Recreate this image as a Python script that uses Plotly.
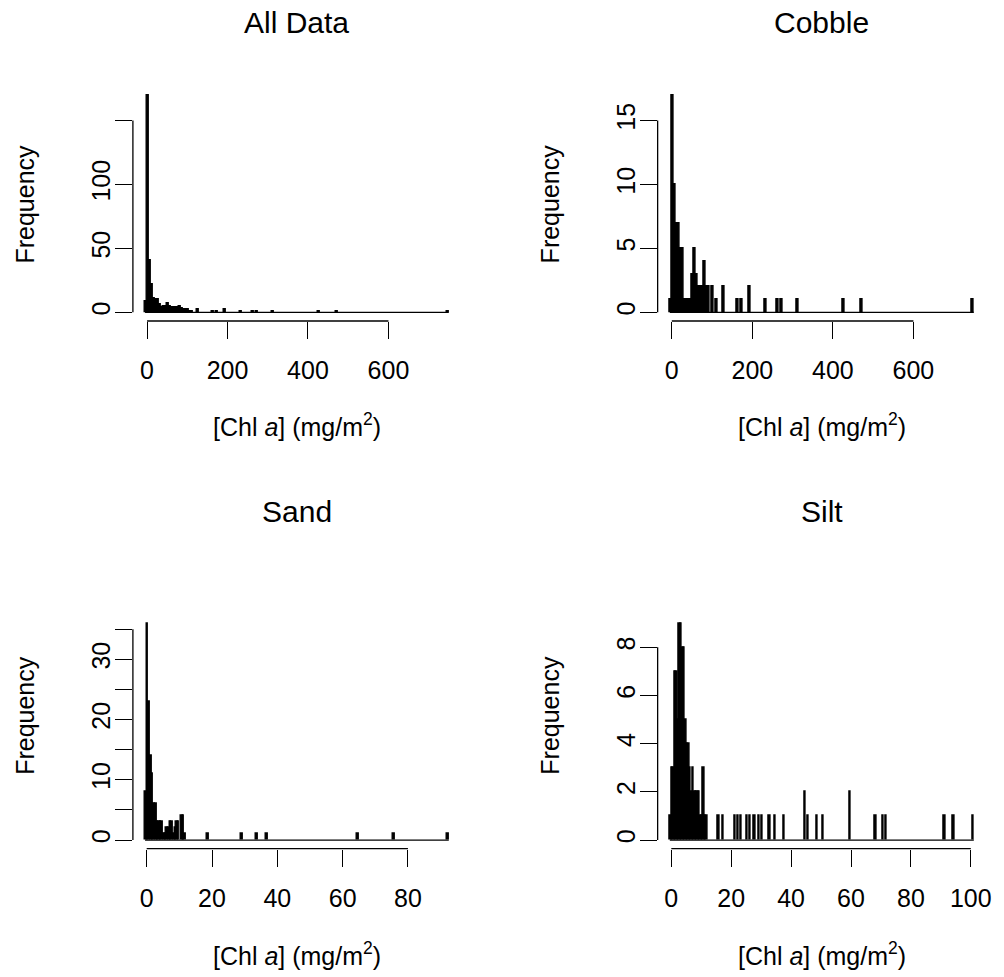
import plotly.graph_objects as go

FONT = "Liberation Sans, Arial, Helvetica, sans-serif"
W, H = 1004, 977

# ---------------- data: histogram bins (lower edge -> count) ----------------
# All Data: bin width 5, breaks from -5 to 750
ALL_BREAKS = (-5, 750)
ALL_WIDTH = 5
ALL_LOWER = [-5, 0, 5, 10, 15, 20, 25, 30, 35, 40, 45, 50, 55, 60, 65, 70, 75, 80,
             85, 90, 95, 100, 105, 110, 125, 160, 170, 190, 230, 260, 270, 310,
             425, 470, 745]
ALL_COUNTS = [9, 170, 41, 22, 11, 10, 10, 6, 4, 5, 5, 7, 5, 4, 4, 4, 4, 5,
              3, 2, 2, 2, 1, 1, 2, 1, 1, 2, 1, 1, 1, 1,
              1, 1, 1]

# Cobble: bin width 5, breaks from -5 to 750
COB_BREAKS = (-5, 750)
COB_WIDTH = 5
COB_LOWER = [-5, 0, 5, 10, 15, 20, 25, 30, 35, 40, 45, 50, 55, 60, 65, 70, 75, 80,
             85, 90, 100, 110, 125, 160, 170, 190, 230, 260, 270, 310, 425, 470, 745]
COB_COUNTS = [1, 17, 10, 7, 7, 5, 5, 1, 1, 1, 1, 3, 5, 3, 2, 2, 2, 4,
              2, 2, 2, 1, 2, 1, 1, 2, 1, 1, 1, 1, 1, 1, 1]

# Sand: bin width 0.5, breaks from -0.5 to 92.5
SAND_BREAKS = (-0.5, 92.5)
SAND_WIDTH = 0.5
SAND_LOWER = [-0.5, 0, 0.5, 1, 1.5, 2, 2.5, 3, 3.5, 4, 4.5, 5, 5.5, 6, 6.5, 7, 7.5,
              8, 8.5, 9, 9.5, 10.5, 11, 11.5, 18.5, 29, 33.5, 36.5, 64.5, 75.5, 92]
SAND_COUNTS = [8, 36, 23, 14, 11, 6, 6, 3, 3, 3, 3, 1, 1, 2, 2, 3, 3,
               1, 2, 3, 3, 4, 4, 1, 1, 1, 1, 1, 1, 1, 1]

# Silt: bin width 0.5, breaks from -0.5 to 101
SILT_BREAKS = (-0.5, 101)
SILT_WIDTH = 0.5
SILT_LOWER = [-0.5, 0, 0.5, 1, 1.5, 2, 2.5, 3, 3.5, 4, 4.5, 5, 5.5, 6, 6.5, 7, 7.5,
              8, 8.5, 9, 9.5, 10, 10.5, 11, 11.5,
              15.5, 17, 21, 22, 23, 25, 26, 27.5, 29, 30, 32.5, 34.5, 37.5, 44.5,
              45.5, 48.5, 50.5, 59.5, 68, 70.5, 71.5, 91, 94, 100.5]
SILT_COUNTS = [1, 3, 3, 7, 7, 5, 9, 9, 8, 8, 5, 4, 4, 3, 2, 3, 2,
               2, 2, 2, 1, 1, 3, 1, 1,
               1, 1, 1, 1, 1, 1, 1, 1, 1, 1, 1, 1, 1, 2,
               1, 1, 1, 2, 1, 1, 1, 1, 1, 1]

TITLES = ["All Data", "Cobble", "Sand", "Silt"]
X_TICKS = [[0, 200, 400, 600], [0, 200, 400, 600], [0, 20, 40, 60, 80], [0, 20, 40, 60, 80, 100]]
# labelled y ticks and unlabelled y ticks (R drops labels that would collide)
Y_TICKS = [[0, 50, 100], [0, 5, 10, 15], [0, 10, 20, 30], [0, 2, 4, 6, 8]]
Y_TICKS_UNLABELLED = [[150], [], [5, 15, 25, 35], []]
X_TITLE = "[Chl <i>a</i>] (mg/m<sup>2</sup>)"
Y_TITLE = "Frequency"

panels = [
    (ALL_BREAKS, ALL_WIDTH, ALL_LOWER, ALL_COUNTS),
    (COB_BREAKS, COB_WIDTH, COB_LOWER, COB_COUNTS),
    (SAND_BREAKS, SAND_WIDTH, SAND_LOWER, SAND_COUNTS),
    (SILT_BREAKS, SILT_WIDTH, SILT_LOWER, SILT_COUNTS),
]

# ---------------- layout geometry (pixels) ----------------
def px_x(p):
    return p / W

def px_y(p):
    return 1 - p / H

X_DOMAINS = [[px_x(133.7), px_x(463.7)], [px_x(661.6), px_x(991.9)]]
Y_DOMAINS = [[px_y(321.0), px_y(86.3)], [px_y(848.7), px_y(614.6)]]

fig = go.Figure()
shapes = []
annotations = []

for i, (brk, w, lower, counts) in enumerate(panels):
    col = i % 2
    row = i // 2
    n = i + 1
    xa = "x" if n == 1 else f"x{n}"
    ya = "y" if n == 1 else f"y{n}"
    ylab = f"y{n + 4}"
    xkey = "xaxis" if n == 1 else f"xaxis{n}"
    ykey = "yaxis" if n == 1 else f"yaxis{n}"
    ylab_key = f"yaxis{n + 4}"

    fig.add_trace(go.Bar(
        x=lower, y=counts, width=w, offset=0,
        marker=dict(color="black", line=dict(color="black", width=1.4)),
        xaxis=xa, yaxis=ya, hoverinfo="skip", showlegend=False))
    # baseline of empty bins (as drawn by R's hist)
    fig.add_trace(go.Scatter(
        x=[brk[0], brk[1]], y=[0, 0], mode="lines",
        line=dict(color="black", width=1.3),
        xaxis=xa, yaxis=ya, hoverinfo="skip", showlegend=False))
    # invisible trace so the overlaid label axis is created
    fig.add_trace(go.Scatter(
        x=[brk[0]], y=[0], mode="markers", marker=dict(opacity=0, size=1),
        xaxis=xa, yaxis=ylab, hoverinfo="skip", showlegend=False))

    span = brk[1] - brk[0]
    xr = [brk[0] - 0.04 * span, brk[1] + 0.04 * span]
    ymax = max(counts)
    yr = [-0.04 * ymax, 1.04 * ymax]

    all_y = sorted(Y_TICKS[i] + Y_TICKS_UNLABELLED[i])

    fig.layout[xkey] = dict(
        domain=X_DOMAINS[col], range=xr, anchor=ya,
        showgrid=False, zeroline=False, showline=False,
        ticks="outside", ticklen=17, tickwidth=1.3, tickcolor="black",
        tickvals=X_TICKS[i], ticktext=[str(v) for v in X_TICKS[i]],
        tickfont=dict(family=FONT, size=25, color="black"),
        ticklabelstandoff=10, fixedrange=True)
    # tick marks (no labels)
    fig.layout[ykey] = dict(
        domain=Y_DOMAINS[row], range=yr, anchor=xa,
        showgrid=False, zeroline=False, showline=False,
        ticks="outside", ticklen=17, tickwidth=1.3, tickcolor="black",
        tickvals=all_y, showticklabels=False, fixedrange=True)
    # overlaid axis carrying the labels, set closer to the axis line as in R
    fig.layout[ylab_key] = dict(
        domain=Y_DOMAINS[row], range=yr, anchor=xa, overlaying=ya, side="left",
        showgrid=False, zeroline=False, showline=False, ticks="",
        tickvals=Y_TICKS[i], ticktext=[str(v) for v in Y_TICKS[i]], tickangle=-90,
        tickfont=dict(family=FONT, size=25, color="black"),
        ticklabelstandoff=17, fixedrange=True)

    # R-style axis lines spanning first to last tick
    shapes.append(dict(type="line", xref=xa, yref=f"{ya} domain",
                       x0=X_TICKS[i][0], x1=X_TICKS[i][-1], y0=0, y1=0,
                       line=dict(color="black", width=1.3)))
    shapes.append(dict(type="line", xref=f"{xa} domain", yref=ya,
                       x0=0, x1=0, y0=all_y[0], y1=all_y[-1],
                       line=dict(color="black", width=1.3)))

    xc = (X_DOMAINS[col][0] + X_DOMAINS[col][1]) / 2
    title_y = px_y(22.5) if row == 0 else px_y(511.5)
    annotations.append(dict(text=TITLES[i], x=xc, y=title_y, xref="paper", yref="paper",
                            xanchor="center", yanchor="middle", showarrow=False,
                            font=dict(family=FONT, size=30, color="black")))
    xt_y = px_y(425.5) if row == 0 else px_y(953.5)
    annotations.append(dict(text=X_TITLE, x=xc, y=xt_y, xref="paper", yref="paper",
                            xanchor="center", yanchor="middle", showarrow=False,
                            font=dict(family=FONT, size=25, color="black")))
    yt_x = px_x(25) if col == 0 else px_x(553)
    yt_y = px_y(203.7) if row == 0 else px_y(715)
    annotations.append(dict(text=Y_TITLE, x=yt_x, y=yt_y, xref="paper", yref="paper",
                            xanchor="center", yanchor="middle", showarrow=False,
                            textangle=-90,
                            font=dict(family=FONT, size=25, color="black")))

fig.update_layout(
    width=W, height=H,
    margin=dict(l=0, r=0, t=0, b=0),
    paper_bgcolor="white", plot_bgcolor="white",
    bargap=0, barmode="overlay",
    shapes=shapes, annotations=annotations,
    font=dict(family=FONT, size=25, color="black"),
)

fig.write_html("out.html")
